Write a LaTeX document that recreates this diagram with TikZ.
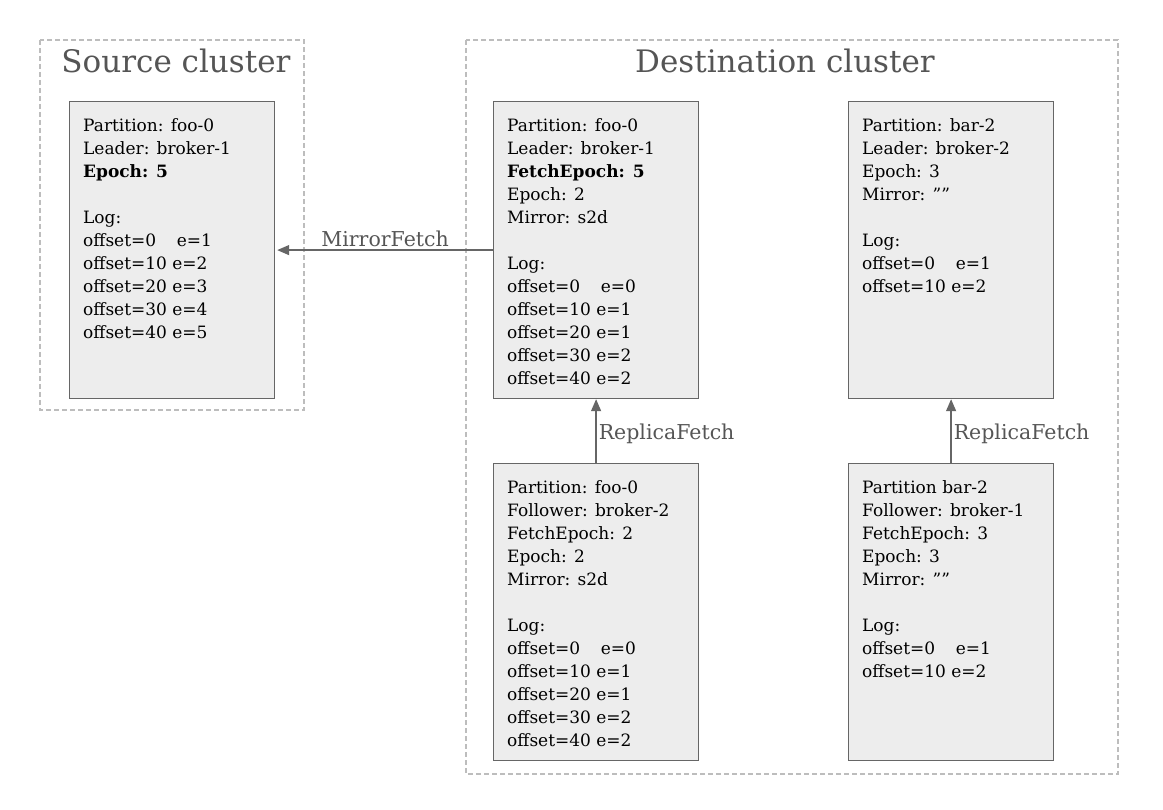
\documentclass[tikz,border=0pt]{standalone}
\usepackage{fontspec}
\setmainfont{DejaVu Serif}
\usetikzlibrary{positioning,arrows.meta,calc}
\definecolor{cframe}{HTML}{BDBDBD}
\definecolor{ctitle}{HTML}{555555}
\definecolor{cbox}{HTML}{EDEDED}
\definecolor{cedge}{HTML}{666666}
\tikzset{
  cluster/.style={draw=cframe, line width=1.2pt, dash pattern=on 5pt off 3pt},
  title/.style={text=ctitle, font=\fontsize{31}{34}\selectfont},
  partbox/.style={draw=cedge, fill=cbox, line width=1.2pt, minimum width=205pt, minimum height=297pt, inner sep=0pt},
  boxtext/.style={anchor=north west, align=left, inner sep=0pt, font=\fontsize{17}{23}\selectfont},
  fetch/.style={draw=cedge, line width=1.3pt, -{Triangle[length=12pt,width=10pt]}},
  fetchlbl/.style={text=ctitle, font=\fontsize{20.5}{22}\selectfont, inner sep=2pt},
}
\begin{document}
\begin{tikzpicture}[x=1pt,y=-1pt]
 \useasboundingbox (0,0) rectangle (1163,810);
 % clusters
 \draw[cluster] (40,40) rectangle (304,410);
 \draw[cluster] (466,40) rectangle (1118,774);
 \node[title] (srctitle) at (176,61) {Source cluster};
 \node[title] (dsttitle) at (785,61) {Destination cluster};
 % partition boxes
 \node[partbox, anchor=north west] (src) at (69,101) {};
 \node[partbox, anchor=north west] (foolead) at (493,101) {};
 \node[partbox, anchor=north west] (barlead) at (848,101) {};
 \node[partbox, anchor=north west] (foofoll) at (493,463) {};
 \node[partbox, anchor=north west] (barfoll) at (848,463) {};
 % box contents
 \node[boxtext] (srctxt) at ([xshift=14pt,yshift=-17pt]src.north west)
  {Partition: foo-0\\Leader: broker-1\\\textbf{Epoch: 5}\\~\\Log:\\
   offset=0\hspace{0.9em} e=1\\offset=10 e=2\\offset=20 e=3\\offset=30 e=4\\offset=40 e=5};
 \node[boxtext] (fooleadtxt) at ([xshift=14pt,yshift=-17pt]foolead.north west)
  {Partition: foo-0\\Leader: broker-1\\\textbf{FetchEpoch: 5}\\Epoch: 2\\Mirror: s2d\\~\\Log:\\
   offset=0\hspace{0.9em} e=0\\offset=10 e=1\\offset=20 e=1\\offset=30 e=2\\offset=40 e=2};
 \node[boxtext] (barleadtxt) at ([xshift=14pt,yshift=-17pt]barlead.north west)
  {Partition: bar-2\\Leader: broker-2\\Epoch: 3\\Mirror: ””\\~\\Log:\\
   offset=0\hspace{0.9em} e=1\\offset=10 e=2};
 \node[boxtext] (foofolltxt) at ([xshift=14pt,yshift=-17pt]foofoll.north west)
  {Partition: foo-0\\Follower: broker-2\\FetchEpoch: 2\\Epoch: 2\\Mirror: s2d\\~\\Log:\\
   offset=0\hspace{0.9em} e=0\\offset=10 e=1\\offset=20 e=1\\offset=30 e=2\\offset=40 e=2};
 \node[boxtext] (barfolltxt) at ([xshift=14pt,yshift=-17pt]barfoll.north west)
  {Partition bar-2\\Follower: broker-1\\FetchEpoch: 3\\Epoch: 3\\Mirror: ””\\~\\Log:\\
   offset=0\hspace{0.9em} e=1\\offset=10 e=2};
 % fetch requests
 \draw[fetch] (foolead.west) -- node[fetchlbl, above=1pt] {MirrorFetch} ([xshift=2pt]src.east);
 \draw[fetch] (foofoll.north) -- node[fetchlbl, right, yshift=-3pt] {ReplicaFetch} (foolead.south);
 \draw[fetch] (barfoll.north) -- node[fetchlbl, right, yshift=-3pt] {ReplicaFetch} (barlead.south);
\end{tikzpicture}
\end{document}
